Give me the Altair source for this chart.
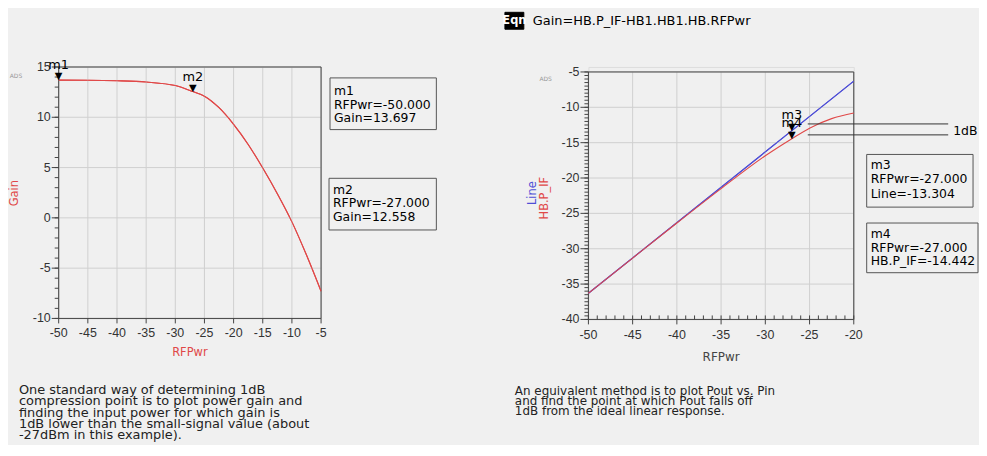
import altair as alt
import pandas as pd

# ---------------- data ----------------
gain_rfpwr = [-50, -45, -40, -35, -30, -27, -25, -22.5, -20, -17.5, -15, -12.5, -10, -7.5, -5]
gain_vals = [13.697, 13.685, 13.63, 13.5, 13.15, 12.558, 12.1, 10.95, 9.3, 7.3, 4.95, 2.4, -0.4, -3.7, -7.3]

line_rfpwr = [-50, -27, -20]
line_vals = [-36.304, -13.304, -6.304]

pif_rfpwr = [-50, -45, -40, -35, -30, -27, -25, -22.5, -20]
pif_vals = [-36.30, -31.32, -26.37, -21.50, -16.85, -14.442, -12.95, -11.6, -10.8]

m_left_names = ["m1", "m2"]
m_left_x = [-50.0, -27.0]
m_left_y = [13.697, 12.558]

m_right_names = ["m3", "m4"]
m_right_x = [-27.0, -27.0]
m_right_y = [-13.304, -14.442]
m_right_vars = ["Line", "HB.P_IF"]

db_levels = [-12.35, -13.9]
db_start = [-25.2, -25.2]

left_x_ticks = [-50, -45, -40, -35, -30, -25, -20, -15, -10, -5]
left_y_ticks = [-10, -5, 0, 5, 10, 15]
left_y_minor = list(range(-10, 16))
right_x_ticks = [-50, -45, -40, -35, -30, -25, -20]
right_x_minor = list(range(-50, -19))
right_y_ticks = [-40, -35, -30, -25, -20, -15, -10, -5]
right_y_minor = [v / 2 for v in range(-80, -9)]

left_note = ["One standard way of determining 1dB",
             "compression point is to plot power gain and",
             "finding the input power for which gain is",
             "1dB lower than the small-signal value (about",
             "-27dBm in this example)."]
right_note = ["An equivalent method is to plot Pout vs. Pin",
              "and find the point at which Pout falls off",
              "1dB from the ideal linear response."]
eqn_text = "Gain=HB.P_IF-HB1.HB1.HB.RFPwr"

# ---------------- style ----------------
BG = "#f0f0f0"
RED = "#e04848"
BLUE = "#4f4fd6"
GRID = "#d0d0d0"
DOM = "#444444"
LBL = "#333333"
FONT = "DejaVu Sans"
TFONT = "Liberation Sans"

W1, H1 = 264, 253
W2, H2 = 267, 254

ONE = pd.DataFrame({"k": [0]})


def label(text, x, y, size=12, color="black", align="left", baseline="alphabetic",
          angle=None, lh=None, weight="normal", font=FONT):
    kw = dict(text=text, fontSize=size, color=color, align=align, baseline=baseline,
              font=font, fontWeight=weight)
    if angle is not None:
        kw["angle"] = angle
    if lh is not None:
        kw["lineHeight"] = lh
    return alt.Chart(ONE).mark_text(**kw).encode(x=alt.value(x), y=alt.value(y))


def box(x1, x2, y1, y2, fill="transparent", stroke="#555555"):
    return alt.Chart(ONE).mark_rect(fill=fill, stroke=stroke, strokeWidth=1).encode(
        x=alt.value(x1), x2=alt.value(x2), y=alt.value(y1), y2=alt.value(y2))


def rule(x1, x2, y1, y2, color=DOM):
    return alt.Chart(ONE).mark_rule(color=color, strokeWidth=1).encode(
        x=alt.value(x1), x2=alt.value(x2), y=alt.value(y1), y2=alt.value(y2))


def guides(tag, xticks, yticks, xminor, yminor, W, y_top, H, xlab_y, ylab_x, ytick, xminor_up):
    """Hand-built axes: grid, frame, ticks and labels drawn through the shared scales."""
    xf, yf = f"{tag}_xt", f"{tag}_yt"
    xl, yl = f"{tag}_xl", f"{tag}_yl"
    xt = pd.DataFrame({xf: xticks})
    yt = pd.DataFrame({yf: yticks})
    X = alt.X(f"{xf}:Q", axis=None)
    Y = alt.Y(f"{yf}:Q", axis=None)
    layers = [
        alt.Chart(xt).mark_rule(color=GRID, strokeWidth=1).encode(x=X, y=alt.value(y_top), y2=alt.value(H)),
        alt.Chart(yt).mark_rule(color=GRID, strokeWidth=1).encode(y=Y, x=alt.value(0), x2=alt.value(W)),
        rule(0, 0, y_top, H),
        rule(0, W, H, H),
        rule(0, W, y_top, y_top),
        rule(W, W, y_top, H),
        alt.Chart(xt).mark_rule(color=DOM).encode(x=X, y=alt.value(H), y2=alt.value(H + 5)),
        alt.Chart(yt).mark_rule(color=DOM).encode(y=Y, x=alt.value(-ytick), x2=alt.value(0)),
        alt.Chart(pd.DataFrame({f"{tag}_ym": yminor})).mark_rule(color=DOM).encode(
            y=alt.Y(f"{tag}_ym:Q", axis=None), x=alt.value(-4), x2=alt.value(0)),
        alt.Chart(xt).transform_calculate(**{xl: f"toString(datum['{xf}'])"}).mark_text(
            font=TFONT, fontSize=12.5, color=LBL, align="center", baseline="middle").encode(
            x=X, y=alt.value(xlab_y), text=alt.Text(f"{xl}:N")),
        alt.Chart(yt).transform_calculate(**{yl: f"toString(datum['{yf}'])"}).mark_text(
            font=TFONT, fontSize=12.5, color=LBL, align="right", baseline="middle").encode(
            y=Y, x=alt.value(ylab_x), text=alt.Text(f"{yl}:N")),
    ]
    if xminor is not None:
        layers.append(alt.Chart(pd.DataFrame({f"{tag}_xm": xminor})).mark_rule(color=DOM).encode(
            x=alt.X(f"{tag}_xm:Q", axis=None), y=alt.value(H), y2=alt.value(H - 4 if xminor_up else H + 3)))
    return layers


# ---------------- left panel ----------------
gain_df = pd.DataFrame({"RFPwr": gain_rfpwr, "Gain": gain_vals})
ml_df = pd.DataFrame({"RFPwr": m_left_x, "Gain": m_left_y, "name": m_left_names})

lx = alt.X("RFPwr:Q", scale=alt.Scale(domain=[-50, -5], nice=False, zero=False), axis=None)
ly = alt.Y("Gain:Q", scale=alt.Scale(domain=[-10, 15], nice=False, zero=False), axis=None)
lx_n = alt.X("RFPwr:Q", axis=None)
ly_n = alt.Y("Gain:Q", axis=None)

bound_left = alt.Chart(ONE).mark_rect(opacity=0).encode(
    x=alt.value(-50), x2=alt.value(-49), y=alt.value(-57), y2=alt.value(-56))

gain_line = alt.Chart(gain_df).mark_line(color=RED, strokeWidth=1.1, interpolate="monotone").encode(x=lx, y=ly)

ml_tri = alt.Chart(ml_df).mark_text(text="▼", fontSize=10, dy=-4, color="black", font=FONT).encode(
    x=lx_n, y=ly_n)
ml_name = alt.Chart(ml_df).mark_text(fontSize=13, dy=-15, color="black", font=FONT).encode(
    x=lx_n, y=ly_n, text="name:N")

m1_lines = [m_left_names[0], f"RFPwr={m_left_x[0]:.3f}", f"Gain={m_left_y[0]:.3f}"]
m2_lines = [m_left_names[1], f"RFPwr={m_left_x[1]:.3f}", f"Gain={m_left_y[1]:.3f}"]

left = alt.layer(
    gain_line,
    bound_left,
    *guides("L", left_x_ticks, left_y_ticks, None, left_y_minor,
            W1, 0, H1, H1 + 15, -8, 7, False),
    gain_line,
    ml_tri,
    ml_name,
    box(273, 380, 11, 63),
    label(m1_lines, 277, 28.5, size=12.5, lh=13.5),
    box(272, 380, 112, 164),
    label(m2_lines, 276, 127.5, size=12.5, lh=13.8),
    label("ADS", -43, 9, size=6, color="#999999", align="center", baseline="middle"),
    label("Gain", -44, 127, size=11.5, color=RED, align="center", baseline="middle", angle=270),
    label("RFPwr", 132, 288, size=11.5, color=RED, align="center", baseline="middle"),
    label(left_note, -40, 329, size=13, color="#222222", lh=11.4),
).properties(width=W1, height=H1)

# ---------------- right panel ----------------
line_df = pd.DataFrame({"RFPwr": line_rfpwr, "Line": line_vals})
pif_df = pd.DataFrame({"RFPwr": pif_rfpwr, "Line": pif_vals})
mr_df = pd.DataFrame({"RFPwr": m_right_x, "Line": m_right_y, "name": m_right_names})
db_df = pd.DataFrame({"Line": db_levels, "RFPwr": db_start})

rx = alt.X("RFPwr:Q", scale=alt.Scale(domain=[-50, -20], nice=False, zero=False), axis=None)
ry = alt.Y("Line:Q", scale=alt.Scale(domain=[-40, -5], nice=False, zero=False, range=[H2, 5]), axis=None)
rx_n = alt.X("RFPwr:Q", axis=None)
ry_n = alt.Y("Line:Q", axis=None)

line_layer = alt.Chart(line_df).mark_line(color=BLUE, strokeWidth=1.1).encode(x=rx, y=ry)
pif_layer = alt.Chart(pif_df).mark_line(color=RED, strokeWidth=1.1, interpolate="monotone").encode(
    x=rx_n, y=ry_n)

db_lines = alt.Chart(db_df).mark_rule(color="#333333", strokeWidth=1).encode(
    y=ry_n, x=rx_n, x2=alt.value(362))

mr_tri = alt.Chart(mr_df).mark_text(text="▼", fontSize=10, dy=-4, color="black", font=FONT).encode(
    x=rx_n, y=ry_n)
mr_name = alt.Chart(mr_df).mark_text(fontSize=13, dy=-16, color="black", font=FONT).encode(
    x=rx_n, y=ry_n, text="name:N")

m3_lines = [m_right_names[0], f"RFPwr={m_right_x[0]:.3f}", f"{m_right_vars[0]}={m_right_y[0]:.3f}"]
m4_lines = [m_right_names[1], f"RFPwr={m_right_x[1]:.3f}", f"{m_right_vars[1]}={m_right_y[1]:.3f}"]

right = alt.layer(
    line_layer,
    *guides("R", right_x_ticks, right_y_ticks, right_x_minor, right_y_minor,
            W2, 5, H2, H2 + 16, -9, 8, True),
    line_layer,
    pif_layer,
    db_lines,
    mr_tri,
    mr_name,
    label("1dB", 367, 64, size=12.5, baseline="middle"),
    box(280, 387, 88, 141),
    label(m3_lines, 284, 102.5, size=12.5, lh=14.5),
    box(280, 392, 157, 207),
    label(m4_lines, 284, 172.5, size=12.5, lh=13.2),
    label("ADS", -43, 12, size=6, color="#999999", align="center", baseline="middle"),
    label("Line", -56, 127, size=11.5, color=BLUE, align="center", baseline="middle", angle=270),
    label("HB.P_IF", -44, 132, size=11.5, color=RED, align="center", baseline="middle", angle=270),
    label("RFPwr", 133.5, 292, size=12, color="#444444", align="center", baseline="middle"),
    box(-84, -65, -55, -38, fill="black", stroke="black"),
    label("Eqn", -74.5, -46.5, size=11.5, color="white", align="center", baseline="middle", weight="bold"),
    label(eqn_text, -56, -46.5, size=13, baseline="middle"),
    label(right_note, -74, 330, size=12, color="#222222", lh=10.2),
).properties(width=W2, height=H2)

chart = alt.hconcat(left, right, spacing=269, bounds="flush").properties(
    padding=0, background=BG
).configure_view(stroke=None).configure(font=FONT)

chart.save("out.html", embed_options={"renderer": "svg", "actions": False})
